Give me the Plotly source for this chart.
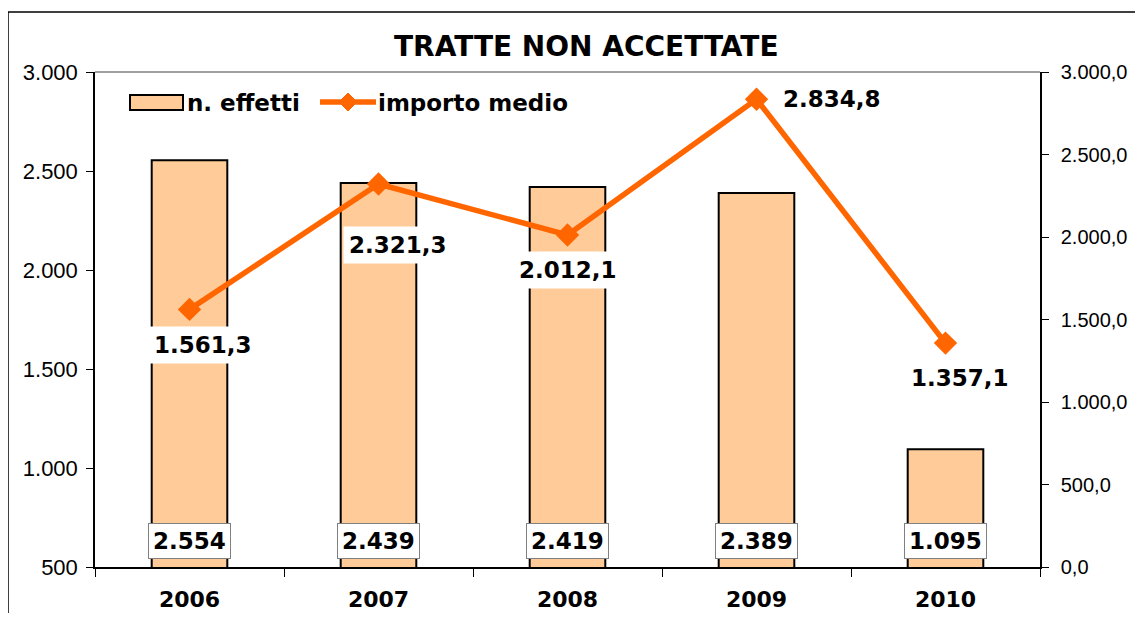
import plotly.graph_objects as go

# ---- data ----
years = ["2006", "2007", "2008", "2009", "2010"]
n_effetti = [2554, 2439, 2419, 2389, 1095]
importo_medio = [1561.3, 2321.3, 2012.1, 2834.8, 1357.1]
left_ticks = [500, 1000, 1500, 2000, 2500, 3000]
right_ticks = [0, 500, 1000, 1500, 2000, 2500, 3000]

# ---- geometry (screen pixels; page body has an 8px margin on all sides) ----
SW, SH = 1143, 621
OFF = 8
L, R, T, B = 95, 1040, 72, 567
FIG_W, FIG_H = SW - 2 * OFF, SH - 2 * OFF


def px(x):
    return (x - L) / (R - L)


def py(y):
    return (B - y) / (B - T)


def it_fmt(v, dec):
    s = f"{v:,.{dec}f}"
    return s.replace(",", "X").replace(".", ",").replace("X", ".")


BAR_FILL = "#FFCC99"
ORANGE = "#FF6600"
LBL_FONT = dict(family="DejaVu Sans", size=23, color="black")
TICK_FONT = dict(family="Liberation Sans", size=22, color="black")
TICK_FONT_R = dict(family="Liberation Sans", size=20, color="black")

fig = go.Figure()
fig.add_trace(go.Bar(
    x=years, y=n_effetti, name="n. effetti",
    marker=dict(color=BAR_FILL, line=dict(color="black", width=2)),
    width=0.4, showlegend=False,
))
fig.add_trace(go.Scatter(
    x=years, y=importo_medio, name="importo medio", yaxis="y2",
    mode="lines+markers",
    line=dict(color=ORANGE, width=5.5),
    marker=dict(symbol="diamond", size=18, color=ORANGE),
    showlegend=False,
))

annotations = []
# bar value labels (boxed, at bottom) -- category index positions
for i, v in enumerate(n_effetti):
    annotations.append(dict(
        x=i, y=py(541), xref="x", yref="paper", yanchor="middle", xanchor="center",
        text=f"<b>{it_fmt(v, 0)}</b>",
        showarrow=False, font=LBL_FONT, bgcolor="white",
        bordercolor="#808080", borderwidth=1, borderpad=4,
    ))
# line value labels
offsets = [(13, 36), (19, 61), (0, 35), (None, 0), (14, 35)]
for i, (v, (dx, dy)) in enumerate(zip(importo_medio, offsets)):
    if dx is None:
        annotations.append(dict(
            x=i, y=v, xref="x", yref="y2", text=f"<b>{it_fmt(v, 1)}</b>",
            showarrow=False, xanchor="left", yanchor="middle", xshift=24, font=LBL_FONT,
        ))
    else:
        annotations.append(dict(
            x=i, y=v, xref="x", yref="y2", text=f"<b>{it_fmt(v, 1)}</b>",
            showarrow=False, xanchor="center", yanchor="middle",
            xshift=dx, yshift=-dy, font=LBL_FONT,
            bgcolor="white", borderpad=5,
        ))
# title
annotations.append(dict(
    x=px(586), y=py(46), xref="paper", yref="paper", xanchor="center", yanchor="middle",
    text="<b>TRATTE NON ACCETTATE</b>", showarrow=False,
    font=dict(family="DejaVu Sans", size=28, color="black"),
))
# manual legend texts
annotations.append(dict(
    x=px(185), y=py(103), xref="paper", yref="paper", xanchor="left", yanchor="middle",
    text="<b>n. effetti</b>", showarrow=False, font=LBL_FONT,
))
annotations.append(dict(
    x=px(376), y=py(103), xref="paper", yref="paper", xanchor="left", yanchor="middle",
    text="<b>importo medio</b>", showarrow=False, font=LBL_FONT,
))

shapes = [
    # outer chart border
    dict(type="rect", xref="paper", yref="paper", x0=px(8), x1=px(1200),
         y0=py(700), y1=py(12), line=dict(color="black", width=1.5)),
    # grey top border of plot area
    dict(type="line", xref="paper", yref="paper", x0=0, x1=1, y0=1, y1=1,
         line=dict(color="#808080", width=1.5)),
    # legend swatch
    dict(type="rect", xref="paper", yref="paper", x0=px(130), x1=px(183),
         y0=py(110), y1=py(95), fillcolor=BAR_FILL, line=dict(color="black", width=2)),
    # legend line
    dict(type="line", xref="paper", yref="paper", x0=px(320), x1=px(376),
         y0=py(102), y1=py(102), line=dict(color=ORANGE, width=5.5)),
    # legend diamond
    dict(type="path", xref="paper", yref="paper",
         path=f"M {px(348)} {py(93)} L {px(357)} {py(102)} L {px(348)} {py(111)} L {px(339)} {py(102)} Z",
         fillcolor=ORANGE, line=dict(color=ORANGE, width=1)),
]

fig.update_layout(
    width=FIG_W, height=FIG_H,
    margin=dict(l=L - OFF, r=(OFF + FIG_W) - R, t=T - OFF, b=(OFF + FIG_H) - B,
                autoexpand=False),
    paper_bgcolor="white", plot_bgcolor="white",
    separators=",.",
    xaxis=dict(
        type="category", range=[-0.5, len(years) - 0.5], autorange=False,
        tickson="boundaries", ticks="outside", ticklen=8, automargin=False,
        tickcolor="black", showline=True, linecolor="black", linewidth=1.5,
        showgrid=False, tickfont=dict(family="DejaVu Sans", size=22, color="black"),
        tickprefix="<b>", ticksuffix="</b>", tickangle=0, ticklabelstandoff=12,
    ),
    yaxis=dict(
        range=[500, 3000], tickvals=left_ticks, tickformat=",.0f",
        ticks="outside", ticklen=7, tickcolor="black", automargin=False,
        showline=True, linecolor="black", linewidth=1.5, showgrid=False,
        zeroline=False, tickfont=TICK_FONT, ticklabelstandoff=4,
    ),
    yaxis2=dict(
        range=[0, 3000], tickvals=right_ticks, tickformat=",.1f",
        overlaying="y", side="right", automargin=False,
        ticks="outside", ticklen=7, tickcolor="black",
        showline=True, linecolor="black", linewidth=1.5, showgrid=False,
        zeroline=False, tickfont=TICK_FONT_R, ticklabelstandoff=8,
    ),
    annotations=annotations,
    shapes=shapes,
    showlegend=False,
)

fig.write_html("out.html")
